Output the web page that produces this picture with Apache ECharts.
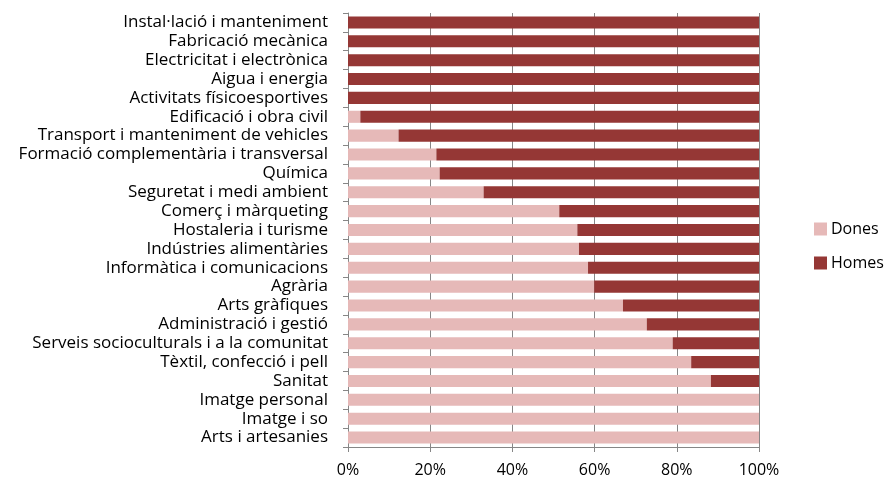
<!DOCTYPE html>
<html><head><meta charset="utf-8">
<script src="https://cdn.jsdelivr.net/npm/echarts@6/dist/echarts.min.js"></script>
<style>html,body{margin:0;padding:0;background:#fff}#c{width:890px;height:483px}</style>
</head><body><div id="c"></div>
<script>
var categories = ["Instal·lació i manteniment","Fabricació mecànica","Electricitat i electrònica","Aigua i energia","Activitats físicoesportives","Edificació i obra civil","Transport i manteniment de vehicles","Formació complementària i transversal","Química","Seguretat i medi ambient","Comerç i màrqueting","Hostaleria i turisme","Indústries alimentàries","Informàtica i comunicacions","Agrària","Arts gràfiques","Administració i gestió","Serveis socioculturals i a la comunitat","Tèxtil, confecció i pell","Sanitat","Imatge personal","Imatge i so","Arts i artesanies"];
var dones = [0,0,0,0,0,3.0,12.3,21.5,22.3,33.0,51.4,55.8,56.2,58.4,59.9,66.9,72.7,79.0,83.5,88.3,100,100,100];
var homes = dones.map(function(v){return +(100-v).toFixed(1);});
var xTicks = [0,20,40,60,80,100];

var chart = echarts.init(document.getElementById('c'));
var font = 'Open Sans';
chart.setOption({
  animation:false,
  grid:{left:348,right:131,top:13,bottom:36,containLabel:false},
  legend:{
    orient:'vertical', left:809, top:216, itemGap:18, itemWidth:13, itemHeight:13,
    icon:'rect', itemStyle:{borderWidth:0},
    textStyle:{fontFamily:font,fontSize:16,color:'#000',padding:[0,0,0,-1]},
    data:['Dones','Homes']
  },
  xAxis:{type:'value',min:0,max:100,interval:20,
    axisLabel:{formatter:'{value}%',fontFamily:font,fontSize:16,color:'#000',margin:15},
    axisLine:{show:true,lineStyle:{color:'#868686'}},
    axisTick:{show:true,length:5,lineStyle:{color:'#868686'}},
    splitLine:{show:true,lineStyle:{color:'#868686',width:1}}
  },
  yAxis:{type:'category',data:categories,inverse:true,
    axisLabel:{fontFamily:font,fontSize:17,color:'#000',margin:20,interval:0},
    axisLine:{show:true,lineStyle:{color:'#868686'}},
    axisTick:{show:true,length:5,interval:0,lineStyle:{color:'#868686'}},
    splitLine:{show:false}
  },
  series:[
    {name:'Dones',type:'bar',stack:'t',data:dones,barWidth:'64%',itemStyle:{color:'#E6B9B8'}},
    {name:'Homes',type:'bar',stack:'t',data:homes,barWidth:'64%',itemStyle:{color:'#953735'}}
  ]
});
</script></body></html>
